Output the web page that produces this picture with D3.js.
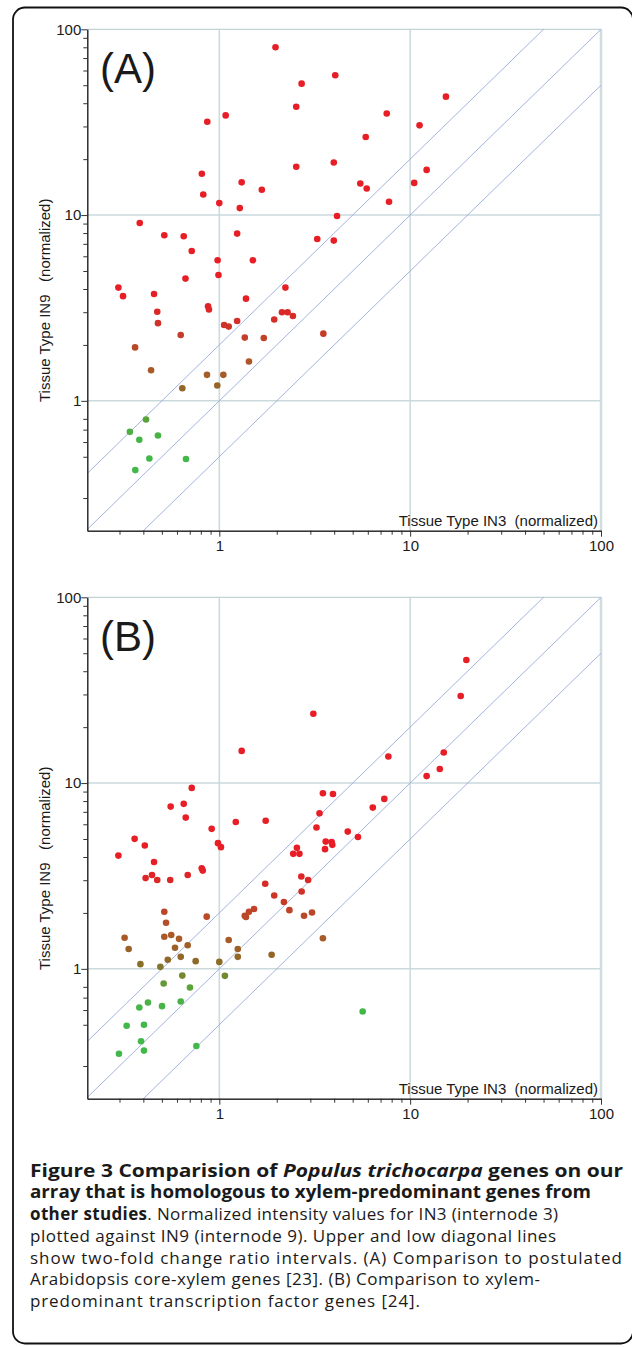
<!DOCTYPE html>
<html>
<head>
<meta charset="utf-8">
<script src="https://cdn.jsdelivr.net/npm/d3@7"></script>
<style>
  body { margin: 0; background: #fff; }
  svg text { white-space: pre; }
</style>
</head>
<body>
<div id="figure"></div>
<script>
// axis limits and ticks
var xMin = 0.2034, xMax = 100, yMin = 0.2, yMax = 100;
var majorTicks = [1, 10, 100];
var xMinorTicks = [0.3, 0.4, 0.5, 0.6, 0.7, 0.8, 0.9, 2, 3, 4, 5, 6, 7, 8, 9, 20, 30, 40, 50, 60, 70, 80, 90];
var yMinorTicks = [0.3, 0.5, 0.6, 0.7, 0.8, 2, 3, 4, 5, 6, 7, 8, 9, 20, 30, 40, 50, 60, 70, 80, 90];
var gridValues = [1, 10];
var foldRatios = [2, 1, 0.5];   // upper two-fold, equal, lower two-fold

// (A) core-xylem genes: IN3 (x) vs IN9 (y)
var a_in3 = [1.97, 2.70, 2.53, 1.08, 0.865, 2.53, 0.81, 1.31, 1.67, 0.824, 1.0, 1.28, 0.383, 1.24, 0.515,
  0.651, 3.26, 0.717, 0.98, 1.50, 0.665, 0.99, 4.05, 15.4, 7.54, 11.2, 5.85, 3.98, 12.2, 5.48,
  5.92, 10.5, 7.75, 4.14, 3.98, 0.296, 0.313, 0.455, 0.473, 0.477, 0.873, 0.883, 1.38, 2.22, 0.628,
  0.362, 1.06, 1.12, 1.24, 1.36, 1.71, 1.94, 2.13, 2.28, 2.43, 1.43, 0.439, 0.862, 1.05, 0.64,
  0.976, 0.413, 0.34, 0.381, 0.477, 0.43, 0.363, 0.669, 3.51];
var a_in9 = [80, 51, 38.3, 34.4, 31.8, 18.2, 16.7, 15.0, 13.7, 12.9, 11.6, 10.9, 9.07, 7.95, 7.79,
  7.69, 7.44, 6.41, 5.71, 5.71, 4.55, 4.76, 56.6, 43.4, 35.2, 30.4, 26.3, 19.2, 17.5, 14.8,
  13.9, 14.9, 11.8, 9.89, 7.29, 4.07, 3.66, 3.76, 3.02, 2.62, 3.23, 3.10, 3.55, 4.07, 2.26,
  1.94, 2.56, 2.51, 2.69, 2.19, 2.18, 2.74, 3.00, 3.00, 2.86, 1.63, 1.46, 1.38, 1.38, 1.17,
  1.21, 0.793, 0.681, 0.617, 0.651, 0.489, 0.424, 0.486, 2.30];

// (B) transcription factor genes: IN3 (x) vs IN9 (y)
var b_in3 = [3.11, 1.31, 0.717, 0.556, 0.651, 0.667, 3.35, 0.912, 1.22, 1.75, 3.23, 0.36, 19.7, 18.4, 7.69,
  15.0, 14.3, 12.2, 3.49, 3.94, 7.32, 6.37, 4.71, 5.33, 3.61, 3.88, 3.91, 3.58, 0.296, 0.407,
  0.455, 0.444, 0.411, 0.473, 0.553, 0.683, 0.809, 0.819, 0.984, 1.02, 2.44, 2.55, 2.63, 2.69, 2.92,
  2.70, 1.74, 1.94, 2.18, 2.33, 2.78, 3.06, 1.36, 1.38, 1.43, 1.52, 0.859, 0.515, 0.526, 0.515,
  0.56, 0.319, 0.335, 0.615, 0.586, 0.683, 1.12, 1.25, 1.25, 1.88, 0.537, 0.628, 0.752, 1.0, 0.386,
  0.491, 0.64, 1.07, 0.511, 0.702, 0.423, 0.381, 0.501, 0.628, 0.327, 0.403, 0.389, 0.403, 0.298, 0.758,
  3.49, 5.64];
var b_in9 = [23.6, 14.9, 9.42, 7.47, 7.73, 6.52, 6.87, 5.67, 6.17, 6.27, 5.77, 5.01, 46.0, 29.4, 13.9,
  14.6, 11.9, 10.9, 8.82, 8.74, 8.22, 7.38, 5.48, 5.13, 4.84, 4.81, 4.65, 4.41, 4.07, 4.61,
  3.76, 3.20, 3.08, 3.01, 3.01, 3.20, 3.48, 3.38, 4.75, 4.52, 4.16, 4.48, 4.16, 3.14, 3.01,
  2.61, 2.87, 2.48, 2.29, 2.07, 1.93, 2.01, 1.93, 1.90, 2.03, 2.10, 1.91, 2.03, 1.77, 1.49,
  1.52, 1.47, 1.28, 1.45, 1.30, 1.34, 1.43, 1.28, 1.16, 1.19, 1.12, 1.16, 1.10, 1.09, 1.06,
  1.025, 0.92, 0.917, 0.834, 0.793, 0.659, 0.619, 0.63, 0.667, 0.494, 0.50, 0.408, 0.363, 0.349, 0.384,
  1.46, 0.589];

// caption lines (b = bold, i = italic)
var captionLines = [
  [{ t: "Figure 3 Comparision of ", b: 1 }, { t: "Populus trichocarpa", b: 1, i: 1 }, { t: " genes on our", b: 1 }],
  [{ t: "array that is homologous to xylem-predominant genes from", b: 1 }],
  [{ t: "other studies", b: 1 }, { t: ". Normalized intensity values for IN3 (internode 3)" }],
  [{ t: "plotted against IN9 (internode 9). Upper and low diagonal lines" }],
  [{ t: "show two-fold change ratio intervals. (A) Comparison to postulated" }],
  [{ t: "Arabidopsis core-xylem genes [23]. (B) Comparison to xylem-" }],
  [{ t: "predominant transcription factor genes [24]." }]
];
// right end of each caption line in the original layout
var captionEnds = [623, 591, 558, 556, 622, 540, 420];

// set the dimensions of the page and the plots
var W = 632, H = 1347;
var plotLeft = 87.3, plotRight = 601, plotHeight = 501.4;
var panelTops = [29.3, 597.3];
var width = plotRight - plotLeft;

var svg = d3.select("#figure")
  .append("svg")
  .attr("width", W)
  .attr("height", H);

// outer frame (right side runs just off the page)
svg.append("rect")
  .attr("x", 13).attr("y", 7.5)
  .attr("width", 620).attr("height", 1336)
  .attr("rx", 12)
  .attr("fill", "none")
  .attr("stroke", "#111")
  .attr("stroke-width", 1.8);

// colour follows IN9 level: green (low) -> brown -> red (high)
var color = d3.scaleLog()
  .domain([0.6, 0.8, 0.92, 1.1, 1.45, 2.0, 2.6, 3.5])
  .range(["#42b84a", "#5aa23a", "#74882e", "#8e6a28", "#a85a28", "#bc4628", "#cf3128", "#e81e26"])
  .clamp(true);

var x = d3.scaleLog().domain([xMin, xMax]).range([0, width]);
var y = d3.scaleLog().domain([yMin, yMax]).range([plotHeight, 0]);

function drawPanel(idx, label, xs, ys) {
  var g = svg.append("g")
    .attr("transform", "translate(" + plotLeft + "," + panelTops[idx] + ")");

  var clipId = "clip" + idx;
  g.append("clipPath").attr("id", clipId)
    .append("rect").attr("width", width).attr("height", plotHeight);

  // grid lines and frame
  g.selectAll(".vgrid").data(gridValues).enter().append("line")
    .attr("x1", function (d) { return x(d); }).attr("x2", function (d) { return x(d); })
    .attr("y1", 0).attr("y2", plotHeight)
    .attr("stroke", "#c9d9dc").attr("stroke-width", 1.5);
  g.selectAll(".hgrid").data(gridValues).enter().append("line")
    .attr("y1", function (d) { return y(d); }).attr("y2", function (d) { return y(d); })
    .attr("x1", 0).attr("x2", width)
    .attr("stroke", "#c9d9dc").attr("stroke-width", 1.5);
  g.append("line")
    .attr("x1", 0).attr("x2", x(xMax)).attr("y1", y(yMax)).attr("y2", y(yMax))
    .attr("stroke", "#c2d3d8").attr("stroke-width", 1.2);
  g.append("line")
    .attr("x1", x(xMax)).attr("x2", x(xMax)).attr("y1", 0).attr("y2", plotHeight)
    .attr("stroke", "#cfdce0").attr("stroke-width", 2.5);

  // fold-change diagonals
  var line = d3.line()
    .x(function (d) { return x(d[0]); })
    .y(function (d) { return y(d[1]); });
  g.append("g").attr("clip-path", "url(#" + clipId + ")")
    .selectAll("path").data(foldRatios).enter().append("path")
    .attr("d", function (r) { return line([[xMin, xMin * r], [xMax, xMax * r]]); })
    .attr("fill", "none")
    .attr("stroke", "#97acd9")
    .attr("stroke-width", 0.9);

  // points
  var pts = xs.map(function (d, i) { return { x: d, y: ys[i] }; });
  g.append("g").selectAll("circle").data(pts).enter().append("circle")
    .attr("cx", function (d) { return x(d.x); })
    .attr("cy", function (d) { return y(d.y); })
    .attr("r", 3.3)
    .attr("fill", function (d) { return color(d.y); });

  // axes
  var bottom = g.append("g").attr("transform", "translate(0," + plotHeight + ")");
  bottom.append("g")
    .call(d3.axisBottom(x).tickValues(xMinorTicks).tickSize(4).tickSizeOuter(0).tickFormat(""));
  bottom.append("g")
    .call(d3.axisBottom(x).tickValues(majorTicks).tickSize(6).tickSizeOuter(0).tickPadding(4).tickFormat(d3.format("d")));
  var left = g.append("g");
  left.append("g")
    .call(d3.axisLeft(y).tickValues(yMinorTicks).tickSize(4).tickSizeOuter(0).tickFormat(""));
  left.append("g")
    .call(d3.axisLeft(y).tickValues(majorTicks).tickSize(6).tickSizeOuter(0).tickPadding(0).tickFormat(d3.format("d")));

  g.selectAll(".domain").attr("stroke", "#222");
  g.selectAll(".tick line").attr("stroke", "#333");
  g.selectAll(".tick text")
    .attr("font-family", "'Liberation Sans', Arial, sans-serif")
    .attr("font-size", 15)
    .attr("fill", "#1a1a1a");

  // axis titles
  g.append("text")
    .attr("x", width - 3)
    .attr("y", plotHeight - 5)
    .attr("text-anchor", "end")
    .attr("font-family", "'Liberation Sans', Arial, sans-serif")
    .attr("font-size", 15)
    .attr("fill", "#1a1a1a")
    .text("Tissue Type IN3  (normalized)");

  g.append("text")
    .attr("transform", "translate(" + (49.5 - plotLeft) + "," + 271 + ") rotate(-90)")
    .attr("text-anchor", "middle")
    .attr("font-family", "'Liberation Sans', Arial, sans-serif")
    .attr("font-size", 15)
    .attr("fill", "#1a1a1a")
    .text("Tissue Type IN9   (normalized)");

  // panel letter
  g.append("text")
    .attr("x", 100 - plotLeft)
    .attr("y", 53.5)
    .attr("font-family", "'Liberation Sans', Arial, sans-serif")
    .attr("font-size", 42)
    .attr("fill", "#1a1a1a")
    .text("(" + label + ")");
}

drawPanel(0, "A", a_in3, a_in9);
drawPanel(1, "B", b_in3, b_in9);

// caption
var capX = 30;
var cap = svg.append("g")
  .attr("font-family", "'Open Sans', sans-serif")
  .attr("font-size", 17)
  .attr("fill", "#1a1a1a");

var capText = cap.selectAll("text").data(captionLines).enter().append("text")
  .attr("x", capX)
  .attr("y", function (d, i) { return 1176.7 + i * 21.7; })
  .attr("textLength", function (d, i) { return captionEnds[i] - capX; })
  .attr("lengthAdjust", function (d) {
    var allBold = d.every(function (s) { return s.b; });
    return allBold ? "spacingAndGlyphs" : "spacing";
  });

capText.selectAll("tspan").data(function (d) { return d; }).enter().append("tspan")
  .attr("font-weight", function (d) { return d.b ? "bold" : "normal"; })
  .attr("font-style", function (d) { return d.i ? "italic" : "normal"; })
  .text(function (d) { return d.t; });
</script>
</body>
</html>
